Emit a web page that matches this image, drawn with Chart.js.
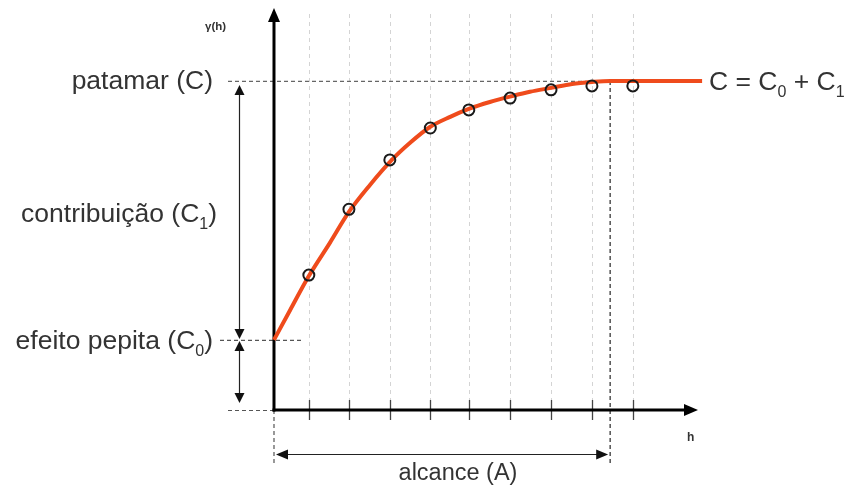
<!DOCTYPE html>
<html>
<head>
<meta charset="utf-8">
<script src="https://cdn.jsdelivr.net/npm/chart.js@4/dist/chart.umd.min.js"></script>
<style>
html,body{margin:0;padding:0;background:#fff;}
#wrap{width:846px;height:488px;}
</style>
</head>
<body>
<div id="wrap"><canvas id="c" width="846" height="488"></canvas></div>
<script>
// ---- data ----
const hTicks   = [0.86, 1.85, 2.86, 3.86, 4.81, 5.83, 6.84, 7.85, 8.86];
const gammaObs = [0.41, 0.61, 0.76, 0.857, 0.912, 0.948, 0.973, 0.985, 0.985];
const curveH     = [0, 0.40, 0.86, 1.38, 1.85, 2.37, 2.91, 3.36, 3.85, 4.35, 4.81, 5.33, 5.88, 6.32, 6.84, 7.36, 7.85, 8.30, 9.28, 10.57];
const curveGamma = [0.213, 0.304, 0.407, 0.508, 0.602, 0.684, 0.760, 0.812, 0.860, 0.891, 0.915, 0.936, 0.954, 0.967, 0.979, 0.991, 0.997, 1.0, 1.0, 1.0];
const nugget = 0.213;   // C0
const sill   = 1.0;     // C
const range  = 8.30;    // A
const labels = {
  yAxis: 'γ(h)', xAxis: 'h',
  sill: ['patamar (C)'],
  contrib: ['contribuição (C', '1', ')'],
  nugget: ['efeito pepita (C', '0', ')'],
  eq: ['C = C', '0', ' + C', '1'],
  range: 'alcance (A)'
};

const FONT = '"Liberation Sans", Arial, sans-serif';
const TXT = '#333';

function dashed(ctx, x1, y1, x2, y2, color, dash, w) {
  ctx.save();
  ctx.strokeStyle = color; ctx.lineWidth = w || 1; ctx.setLineDash(dash);
  ctx.beginPath(); ctx.moveTo(x1, y1); ctx.lineTo(x2, y2); ctx.stroke();
  ctx.restore();
}
function line(ctx, x1, y1, x2, y2, color, w) { dashed(ctx, x1, y1, x2, y2, color, [], w); }
function head(ctx, tx, ty, dx, dy, len, hw, color) {
  ctx.save();
  ctx.fillStyle = color;
  const px = -dy, py = dx;
  ctx.beginPath();
  ctx.moveTo(tx, ty);
  ctx.lineTo(tx - dx * len + px * hw, ty - dy * len + py * hw);
  ctx.lineTo(tx - dx * len - px * hw, ty - dy * len - py * hw);
  ctx.closePath(); ctx.fill();
  ctx.restore();
}
// draw text parts (odd indices are subscripts); align 'right' | 'left' | 'center'
function richText(ctx, parts, x, y, size, align) {
  const sub = Math.round(size * 0.62);
  const widths = parts.map((p, i) => {
    ctx.font = (i % 2 ? sub : size) + 'px ' + FONT;
    return ctx.measureText(p).width;
  });
  const total = widths.reduce((a, b) => a + b, 0);
  let cx = align === 'right' ? x - total : align === 'center' ? x - total / 2 : x;
  ctx.save();
  ctx.fillStyle = TXT; ctx.textBaseline = 'alphabetic'; ctx.textAlign = 'left';
  parts.forEach((p, i) => {
    ctx.font = (i % 2 ? sub : size) + 'px ' + FONT;
    ctx.fillText(p, cx, y + (i % 2 ? size * 0.28 : 0));
    cx += widths[i];
  });
  ctx.restore();
}

const decor = {
  id: 'decor',
  beforeDatasetsDraw(chart) {
    const ctx = chart.ctx, xs = chart.scales.x, ys = chart.scales.y;
    const X = v => xs.getPixelForValue(v), Y = v => ys.getPixelForValue(v);
    const x0 = X(0), y0 = Y(0), yC = Y(sill), yN = Y(nugget), xA = X(range);
    // light vertical grid lines
    hTicks.forEach(h => dashed(ctx, Math.round(X(h)) + 0.5, 14, Math.round(X(h)) + 0.5, y0, '#d4d4d4', [4, 4], 1));
    // reference dashed lines
    dashed(ctx, 228, yC + 0.5, xA, yC + 0.5, '#666', [4, 3], 1.2);
    dashed(ctx, 220, yN + 0.5, 302, yN + 0.5, '#555', [4, 3], 1.1);
    dashed(ctx, 228, y0 + 0.5, x0, y0 + 0.5, '#555', [4, 3], 1.1);
    dashed(ctx, xA, yC, xA, 466, '#444', [4, 3], 1.4);
    dashed(ctx, x0, y0, x0, 465, '#555', [4, 3], 1.2);
    // tick marks
    hTicks.forEach(h => line(ctx, Math.round(X(h)) + 0.5, y0 - 10, Math.round(X(h)) + 0.5, y0 + 10, '#444', 1.3));
    // axes
    line(ctx, x0, y0 + 1.5, x0, 20, '#000', 3);
    head(ctx, x0, 8, 0, -1, 14, 6, '#000');
    line(ctx, x0 - 1.5, y0, 686, y0, '#000', 3);
    head(ctx, 698, y0, 1, 0, 14, 6, '#000');
    // vertical double arrows (C1 and C0)
    const xv = 239.5;
    line(ctx, xv, yC + 12, xv, yN - 10, '#222', 1.2);
    head(ctx, xv, yC + 4, 0, -1, 10, 5, '#111');
    head(ctx, xv, yN - 1, 0, 1, 10, 5, '#111');
    line(ctx, xv, yN + 10, xv, y0 - 14, '#222', 1.2);
    head(ctx, xv, yN + 1, 0, -1, 10, 5, '#111');
    head(ctx, xv, y0 - 7, 0, 1, 10, 5, '#111');
    // horizontal range arrow
    const yr = 454.5;
    line(ctx, x0 + 10, yr, xA - 10, yr, '#222', 1.2);
    head(ctx, x0 + 2, yr, -1, 0, 12, 5, '#111');
    head(ctx, xA - 2, yr, 1, 0, 12, 5, '#111');
  },
  afterDatasetsDraw(chart) {
    const ctx = chart.ctx, ys = chart.scales.y;
    const yC = ys.getPixelForValue(sill), yN = ys.getPixelForValue(nugget);
    richText(ctx, labels.sill, 213, yC + 8, 26.5, 'right');
    richText(ctx, labels.contrib, 217, 222, 26.5, 'right');
    richText(ctx, labels.nugget, 213, yN + 9, 26.5, 'right');
    richText(ctx, labels.eq, 709, yC + 9, 26.5, 'left');
    richText(ctx, [labels.range], 458, 480, 23.5, 'center');
    ctx.save();
    ctx.fillStyle = '#333';
    ctx.font = 'bold 11.5px ' + FONT; ctx.textAlign = 'left'; ctx.textBaseline = 'alphabetic';
    ctx.fillText(labels.yAxis, 205, 30);
    ctx.font = 'bold 12px ' + FONT;
    ctx.fillText(labels.xAxis, 687, 441);
    ctx.restore();
  }
};

new Chart(document.getElementById('c'), {
  type: 'scatter',
  data: {
    datasets: [
      {
        label: 'observado',
        data: hTicks.map((h, i) => ({ x: h, y: gammaObs[i] })),
        showLine: false,
        pointRadius: 5.5,
        pointBorderWidth: 2,
        pointBorderColor: '#1a1a1a',
        pointBackgroundColor: 'rgba(0,0,0,0)',
        order: 0
      },
      {
        label: 'modelo',
        data: curveH.map((h, i) => ({ x: h, y: curveGamma[i] })),
        showLine: true,
        borderColor: '#ef4b1c',
        borderWidth: 4,
        pointRadius: 0,
        cubicInterpolationMode: 'monotone',
        order: 1
      }
    ]
  },
  options: {
    responsive: false,
    animation: false,
    devicePixelRatio: 1,
    layout: { padding: 0, autoPadding: false },
    plugins: { legend: { display: false }, tooltip: { enabled: false }, title: { display: false } },
    scales: {
      x: { type: 'linear', display: false, min: -6.765, max: 14.123 },
      y: { type: 'linear', display: false, min: -0.237, max: 1.246 }
    }
  },
  plugins: [decor]
});
</script>
</body>
</html>
